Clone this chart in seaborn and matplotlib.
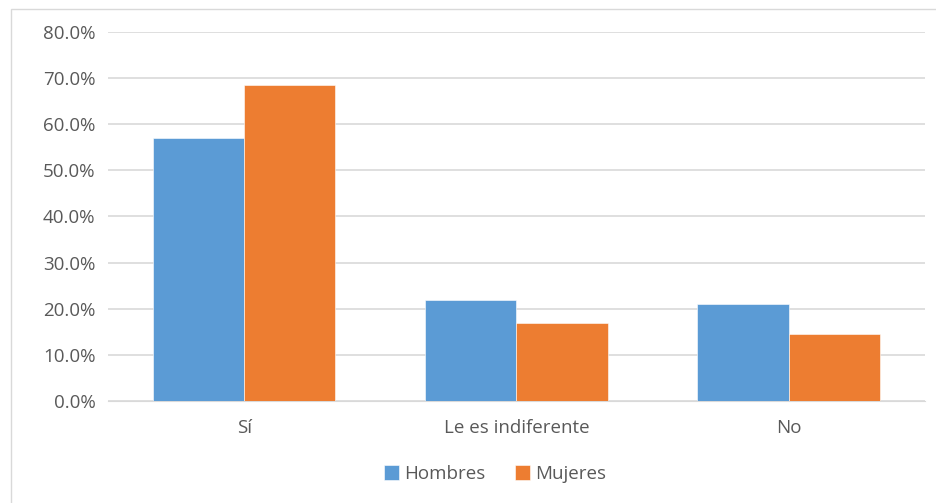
import pandas as pd
import numpy as np
import seaborn as sns
import matplotlib.pyplot as plt
from matplotlib.patches import Rectangle
from matplotlib.ticker import PercentFormatter

# Chart data
categories = ["Sí", "Le es indiferente", "No"]
hombres = [57.0, 22.0, 21.0]
mujeres = [68.5, 17.0, 14.5]
series_names = ["Hombres", "Mujeres"]
colors = ["#5B9BD5", "#ED7D31"]

df = pd.DataFrame({
    "Categoria": categories * 2,
    "Grupo": [series_names[0]] * 3 + [series_names[1]] * 3,
    "Valor": hombres + mujeres,
})

sns.set_style("white")
plt.rcParams["font.family"] = ["Open Sans", "DejaVu Sans"]

fig = plt.figure(figsize=(9.36, 5.03), dpi=100)
ax = fig.add_axes([0.1154, 0.2028, 0.8726, 0.7336])

# Chart border
fig.patches.append(Rectangle((11 / 936, -0.01), 1.0, 1 - 9 / 503 + 0.01,
                             transform=fig.transFigure, fill=False,
                             edgecolor="#D9D9D9", linewidth=1.0))

sns.barplot(data=df, x="Categoria", y="Valor", hue="Grupo", order=categories,
            hue_order=series_names, palette=colors, width=0.67, gap=0,
            saturation=1, edgecolor="white", linewidth=0.4, ax=ax, zorder=3)

ax.set_ylim(0, 80)
ax.set_xlim(-0.5, 2.5)
ax.set_yticks(np.arange(0, 81, 10))
ax.yaxis.set_major_formatter(PercentFormatter(decimals=1))
ax.grid(axis="y", color="#D9D9D9", linewidth=1.2, zorder=0)
ax.set_axisbelow(True)
for s in ["top", "right", "left"]:
    ax.spines[s].set_visible(False)
ax.spines["bottom"].set_color("#D9D9D9")
ax.tick_params(axis="y", length=0, pad=9, labelsize=13.5, labelcolor="#595959")
ax.tick_params(axis="x", length=0, pad=13, labelsize=13.5, labelcolor="#595959")
ax.set_xlabel("")
ax.set_ylabel("")

ax.legend(loc="center", bbox_to_anchor=(495 / 936, 1 - 474 / 503),
          bbox_transform=fig.transFigure, ncol=2, frameon=False,
          fontsize=13.5, labelcolor="#595959", handlelength=0.8,
          handleheight=0.8, handletextpad=0.25, columnspacing=1.6)

fig.savefig("out.png", dpi=100)
